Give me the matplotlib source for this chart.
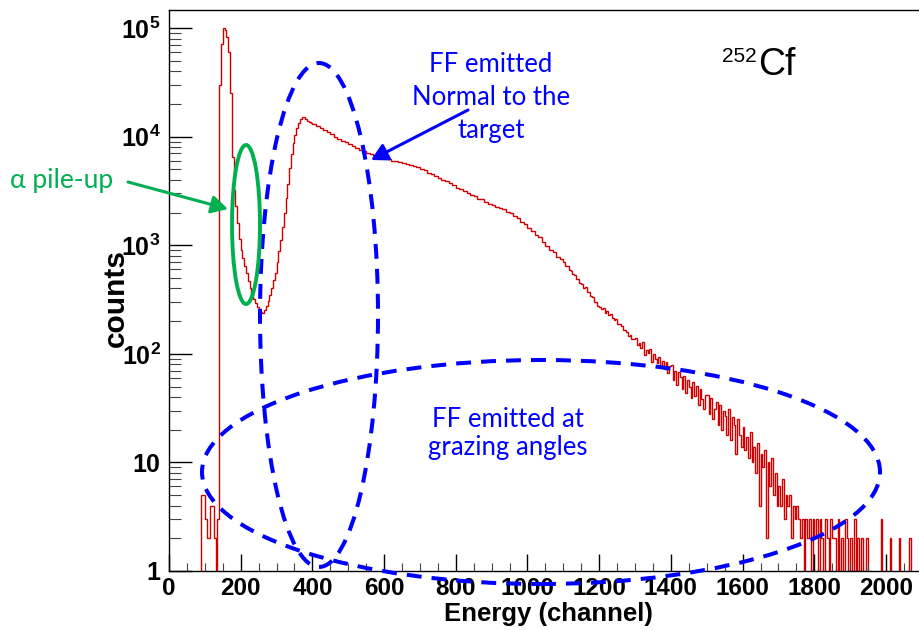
import numpy as np
import matplotlib
matplotlib.use("Agg")
import matplotlib.pyplot as plt
from matplotlib.patches import Ellipse, FancyArrowPatch
from matplotlib.ticker import FixedLocator, FixedFormatter, LogLocator, NullFormatter, MultipleLocator

plt.rcParams['font.family'] = ['Liberation Sans', 'DejaVu Sans']
plt.rcParams['font.weight'] = 'bold'
plt.rcParams['mathtext.fontset'] = 'custom'
plt.rcParams['mathtext.rm'] = 'Liberation Sans:bold'
plt.rcParams['mathtext.it'] = 'Liberation Sans:bold'
plt.rcParams['mathtext.bf'] = 'Liberation Sans:bold'

# ---------------- data (counts per bin) ----------------
# bins of 5 channels from 0 to 140
counts_low = [0] * 18 + [5, 5, 3, 2, 2, 4, 4, 2, 1, 3]
# bins of 5 channels from 140 to 400 (alpha peak, valley, FF rise)
counts_alpha_ff = [30000, 72000, 100000, 96000, 82000, 60000, 25000, 6500, 3200, 2300,
                   1600, 1150, 900, 760, 650, 550, 470, 405, 355, 320,
                   295, 272, 252, 243, 240, 252, 275, 305, 345, 400,
                   475, 560, 700, 880, 1120, 1480, 1980, 2700, 3700, 5100,
                   6900, 8700, 10400, 11900, 13300, 14400, 15100, 15000, 14500, 14000,
                   13600, 13300]
# bins of 10 channels from 400 to 1100 (FF plateau)
counts_plateau = [13200, 12600, 12050, 11500, 10950, 10500, 10000, 9580, 9100, 8920,
                  8500, 8150, 7920, 7600, 7400, 7090, 6900, 6770, 6600, 6470,
                  6300, 6180, 6020, 5970, 5880, 5760, 5610, 5510, 5360, 5260,
                  5000, 4910, 4670, 4480, 4360, 4180, 3970, 3900, 3710, 3560,
                  3380, 3320, 3150, 3030, 2870, 2830, 2680, 2640, 2500, 2410,
                  2330, 2250, 2180, 2150, 2030, 1960, 1850, 1790, 1650, 1560,
                  1440, 1360, 1250, 1180, 1060, 990, 900, 860, 780, 750]
# bins of 5 channels from 1100 to 1700 (fall-off)
counts_falloff = [702, 648, 641, 588, 583, 538, 531, 489, 487, 446, 441, 405, 409, 372, 370, 338, 331, 302, 299, 274,
                  270, 259, 262, 240, 247, 226, 233, 214, 205, 211, 190, 189, 181, 165, 167, 158, 147, 149, 138, 137,
                  141, 120, 126, 112, 128, 98, 109, 101, 111, 84, 99, 90, 82, 93, 77, 85, 73, 84, 66, 78,
                  79, 58, 70, 52, 68, 61, 47, 63, 44, 58, 50, 39, 55, 41, 51, 34, 47, 38, 31, 42,
                  42, 28, 39, 25, 31, 36, 22, 34, 20, 30, 27, 18, 31, 16, 26, 22, 12, 25, 18, 14,
                  21, 13, 17, 11, 19, 10, 14, 8, 15, 4, 12, 9, 13, 2, 10, 6, 11, 5, 8, 4]
# bins of 5 channels from 1700 to 2100 (tail)
counts_tail = [6, 4, 7, 3, 5, 4, 5, 2, 4, 3, 4, 3, 2, 3, 1, 3, 2, 3, 1, 3,
               2, 3, 1, 3, 2, 0, 3, 2, 1, 3, 2, 2, 1, 3, 1, 2, 0, 3, 2, 1,
               2, 1, 3, 0, 2, 1, 2, 0, 1, 2, 0, 1, 0, 0, 0, 0, 0, 3, 0, 0,
               0, 0, 2, 0, 0, 0, 0, 2, 0, 0, 0, 0, 0, 2, 0, 0, 0, 0, 0, 0]

bin_edges = np.concatenate([np.arange(0, 400, 5), np.arange(400, 1100, 10), np.arange(1100, 2101, 5)])
counts = np.array(counts_low + counts_alpha_ff + counts_plateau + counts_falloff + counts_tail, dtype=float)

x_major_ticks = list(range(0, 2001, 200))
x_tick_labels = [str(v) for v in x_major_ticks]
y_major_ticks = [1, 10, 100, 1000, 10000, 100000]
y_tick_labels = ['1', '10', r'$10^{2}$', r'$10^{3}$', r'$10^{4}$', r'$10^{5}$']

# ---------------- figure ----------------
W, H = 920, 630
fig = plt.figure(figsize=(W / 100, H / 100), dpi=100)

def P(x, y):
    return (x / W, 1 - y / H)

ax_left, ax_top, ax_bottom = 169, 10, 571
ax_width_px = 0.3585 * 2100
ax = fig.add_axes([ax_left / W, 1 - ax_bottom / H, ax_width_px / W, (ax_bottom - ax_top) / H])

ax.stairs(counts, bin_edges, color='#d00000', lw=1.0, baseline=None)

ax.set_yscale('log')
ax.set_xlim(0, 2100)
ax.set_ylim(1, 10 ** 5.166)

ax.xaxis.set_major_locator(FixedLocator(x_major_ticks))
ax.xaxis.set_major_formatter(FixedFormatter(x_tick_labels))
ax.xaxis.set_minor_locator(MultipleLocator(50))
ax.yaxis.set_major_locator(FixedLocator(y_major_ticks))
ax.yaxis.set_major_formatter(FixedFormatter(y_tick_labels))
ax.yaxis.set_minor_locator(LogLocator(base=10, subs=range(2, 10)))
ax.yaxis.set_minor_formatter(NullFormatter())

ax.tick_params(axis='y', which='major', direction='in', length=16.5, width=1.0, labelsize=18, pad=6)
ax.tick_params(axis='y', which='minor', direction='in', length=8.5, width=0.8, color='#444444')
ax.tick_params(axis='x', which='major', direction='in', length=12, width=1.0, labelsize=17.5, pad=4)
ax.tick_params(axis='x', which='minor', direction='in', length=6, width=0.8, color='#444444')
for s in ['left', 'bottom', 'top']:
    ax.spines[s].set_linewidth(1.0)
ax.spines['right'].set_visible(False)

# axis titles
fig.text(*P(116, 298), 'counts', rotation=90, ha='center', va='center', fontsize=21.5, fontweight='bold')
fig.text(*P(653, 621), 'Energy (channel)', ha='right', va='baseline', fontsize=18.5, fontweight='bold')

# 252Cf label
fig.text(*P(758, 75), 'Cf', ha='left', va='baseline', fontsize=27, fontweight='normal')
fig.text(*P(757, 62), '252', ha='right', va='baseline', fontsize=15, fontweight='normal')

blue = '#0000ff'
green = '#00b050'
ann_font = ['Lato', 'DejaVu Sans']

# Blue annotation text
for txt, yb in [('FF emitted', 72), ('Normal to the', 105), ('target', 138)]:
    fig.text(*P(491, yb), txt, ha='center', va='baseline', fontsize=18.5, color=blue,
             family=ann_font, fontweight='normal')
for txt, yb in [('FF emitted at', 427), ('grazing angles', 455)]:
    fig.text(*P(508, yb), txt, ha='center', va='baseline', fontsize=18.5, color=blue,
             family=ann_font, fontweight='normal')

# green annotation text
fig.text(*P(10, 188), 'α pile-up', ha='left', va='baseline', fontsize=19, color=green,
         family=ann_font, fontweight='normal')

# Ellipses
dash = (0, (3.7, 2.5))
e1 = Ellipse(P(319, 315), 2 * 59 / W, 2 * 252 / H, transform=fig.transFigure, fill=False,
             ec=blue, lw=2.9, ls=dash, zorder=5)
e2 = Ellipse(P(541, 472), 2 * 339 / W, 2 * 112 / H, transform=fig.transFigure, fill=False,
             ec=blue, lw=2.9, ls=dash, zorder=5)
e3 = Ellipse(P(246, 224.5), 28 / W, 159 / H, transform=fig.transFigure, fill=False,
             ec=green, lw=2.8, zorder=5)
for e in (e1, e2, e3):
    e.set_capstyle('butt')
    fig.add_artist(e)

# Arrows
a1 = FancyArrowPatch(P(128, 182), P(228, 209), transform=fig.transFigure,
                     arrowstyle='-|>,head_length=0.55,head_width=0.3', mutation_scale=18,
                     color=green, lw=2.2, shrinkA=0, shrinkB=0, zorder=6)
a2 = FancyArrowPatch(P(468, 110), P(371, 160), transform=fig.transFigure,
                     arrowstyle='-|>,head_length=0.55,head_width=0.3', mutation_scale=18,
                     color=blue, lw=2.2, shrinkA=0, shrinkB=0, zorder=6)
fig.add_artist(a1)
fig.add_artist(a2)

fig.savefig('out.png', dpi=100)
